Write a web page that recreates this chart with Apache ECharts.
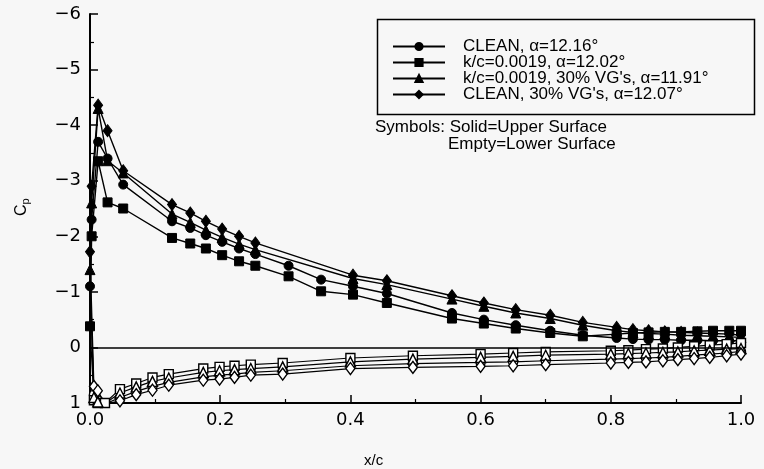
<!DOCTYPE html>
<html>
<head>
<meta charset="utf-8">
<script src="https://cdn.jsdelivr.net/npm/echarts@6/dist/echarts.min.js"></script>
<style>
  html, body { margin: 0; padding: 0; background: #f7f7f7; }
  #chart { width: 764px; height: 469px; }
</style>
</head>
<body>
<div id="chart"></div>
<script>
// Chordwise pressure taps (x/c)
const xUpper   = [0, 0.0025, 0.0125, 0.027, 0.051, 0.126, 0.154, 0.178, 0.203, 0.229, 0.254, 0.305, 0.355, 0.404, 0.456, 0.556, 0.605, 0.654, 0.707, 0.757, 0.809, 0.834, 0.858, 0.883, 0.908, 0.933, 0.957, 0.982, 1.0];
const xUpperVG = [0, 0.0025, 0.0125, 0.027, 0.051, 0.126, 0.154, 0.178, 0.203, 0.229, 0.254, 0.404, 0.456, 0.556, 0.605, 0.654, 0.707, 0.757, 0.809, 0.834, 0.858, 0.883, 0.908, 0.933, 0.957, 0.982, 1.0];
const xLower   = [0.006, 0.012, 0.023, 0.046, 0.071, 0.096, 0.121, 0.174, 0.199, 0.222, 0.247, 0.296, 0.4, 0.496, 0.6, 0.65, 0.7, 0.8, 0.827, 0.854, 0.88, 0.903, 0.928, 0.952, 0.978, 1.0];

// Upper surface Cp
const cleanUpper   = [-1.10, -2.30, -3.70, -3.40, -2.93, -2.27, -2.15, -2.02, -1.90, -1.78, -1.68, -1.47, -1.22, -1.10, -0.97, -0.62, -0.50, -0.40, -0.30, -0.22, -0.17, -0.15, -0.14, -0.14, -0.13, -0.13, -0.12, -0.12, -0.12];
const kcUpper      = [-0.38, -2.00, -3.35, -2.61, -2.50, -1.97, -1.87, -1.78, -1.66, -1.55, -1.47, -1.28, -1.01, -0.95, -0.80, -0.52, -0.43, -0.34, -0.26, -0.20, -0.24, -0.26, -0.27, -0.28, -0.28, -0.29, -0.30, -0.30, -0.30];
const kcVgUpper    = [-1.40, -2.60, -4.30, -3.36, -3.14, -2.40, -2.25, -2.11, -1.98, -1.86, -1.76, -1.24, -1.13, -0.87, -0.74, -0.62, -0.52, -0.40, -0.30, -0.27, -0.25, -0.24, -0.22, -0.21, -0.20, -0.19, -0.18];
const cleanVgUpper = [-1.72, -2.90, -4.36, -3.90, -3.18, -2.57, -2.42, -2.27, -2.13, -2.00, -1.88, -1.30, -1.20, -0.93, -0.80, -0.68, -0.58, -0.45, -0.36, -0.32, -0.30, -0.28, -0.27, -0.26, -0.25, -0.24, -0.22];

// Lower surface Cp
const cleanLower   = [0.85, 0.95, 1.02, 0.90, 0.79, 0.70, 0.63, 0.53, 0.50, 0.48, 0.45, 0.42, 0.33, 0.29, 0.27, 0.26, 0.24, 0.21, 0.20, 0.19, 0.18, 0.16, 0.14, 0.12, 0.10, 0.07];
const kcLower      = [0.95, 1.00, 1.00, 0.75, 0.65, 0.54, 0.48, 0.38, 0.35, 0.33, 0.31, 0.28, 0.19, 0.15, 0.12, 0.10, 0.08, 0.06, 0.05, 0.03, 0.02, 0.00, -0.02, -0.04, -0.06, -0.08];
const kcVgLower    = [0.90, 0.98, 1.01, 0.82, 0.71, 0.61, 0.55, 0.45, 0.42, 0.40, 0.38, 0.35, 0.26, 0.21, 0.18, 0.16, 0.14, 0.12, 0.11, 0.10, 0.09, 0.08, 0.06, 0.05, 0.03, 0.02];
const cleanVgLower = [0.70, 0.78, 1.02, 0.96, 0.85, 0.77, 0.68, 0.59, 0.57, 0.54, 0.50, 0.48, 0.38, 0.36, 0.34, 0.33, 0.31, 0.28, 0.27, 0.26, 0.24, 0.22, 0.20, 0.18, 0.15, 0.12];

// Test configurations
const caseNames = [
  'CLEAN, α=12.16°',
  'k/c=0.0019, α=12.02°',
  'k/c=0.0019, 30% VG\'s, α=11.91°',
  'CLEAN, 30% VG\'s, α=12.07°'
];
const caseSymbols = ['circle', 'rect', 'triangle', 'diamond'];
const caseSizes = [9, 9, 10, [9, 12]];

// Axis ticks
const xTicks = [0, 0.2, 0.4, 0.6, 0.8, 1.0];
const yTicks = [-6, -5, -4, -3, -2, -1, 0, 1];

const upperSets = [[xUpper, cleanUpper], [xUpper, kcUpper], [xUpperVG, kcVgUpper], [xUpperVG, cleanVgUpper]];
const lowerSets = [cleanLower, kcLower, kcVgLower, cleanVgLower];

function pairs(xs, ys) { return xs.map((x, i) => [x, ys[i]]); }

const series = [];
upperSets.forEach(([xs, ys], i) => {
  series.push({
    name: caseNames[i],
    type: 'line',
    data: pairs(xs, ys),
    symbol: caseSymbols[i],
    symbolSize: caseSizes[i],
    showAllSymbol: true,
    lineStyle: { color: '#000', width: 1.4 },
    itemStyle: { color: '#000', borderColor: '#000', borderWidth: 1 },
    z: 3
  });
});
lowerSets.forEach((ys, i) => {
  // lower surface continues from the leading-edge point of the upper surface
  const start = { value: [0, upperSets[i][1][0]], symbol: 'none' };
  series.push({
    name: caseNames[i],
    type: 'line',
    data: [start].concat(pairs(xLower, ys)),
    symbol: caseSymbols[i],
    symbolSize: caseSizes[i],
    showAllSymbol: true,
    lineStyle: { color: '#000', width: 1.2 },
    itemStyle: { color: '#fff', borderColor: '#000', borderWidth: 1.4 },
    z: 4
  });
});

// zero reference line
series[0].markLine = {
  silent: true,
  symbol: ['none', 'none'],
  label: { show: false },
  lineStyle: { color: '#000', width: 1.5, type: 'solid' },
  data: [{ yAxis: 0 }]
};

const tickFont = { fontFamily: 'DejaVu Sans', fontSize: 18, color: '#000' };

const chart = echarts.init(document.getElementById('chart'), null, { renderer: 'canvas' });
chart.setOption({
  backgroundColor: '#f7f7f7',
  animation: false,
  grid: { left: 90, right: 23, top: 14, bottom: 66 },
  xAxis: {
    type: 'value',
    min: xTicks[0], max: xTicks[xTicks.length - 1], interval: 0.2,
    axisLine: { onZero: false, lineStyle: { color: '#000', width: 2 } },
    axisTick: { inside: true, length: 8, lineStyle: { color: '#000', width: 1.5 } },
    minorTick: { show: true, splitNumber: 2, length: 4, lineStyle: { color: '#000', width: 1.2 } },
    splitLine: { show: false },
    axisLabel: { ...tickFont, margin: 8, formatter: v => v.toFixed(1) }
  },
  yAxis: {
    type: 'value',
    inverse: true,
    min: yTicks[0], max: yTicks[yTicks.length - 1], interval: 1,
    axisLine: { lineStyle: { color: '#000', width: 2 } },
    axisTick: { inside: true, length: 8, lineStyle: { color: '#000', width: 1.5 } },
    minorTick: { show: true, splitNumber: 2, length: 4, lineStyle: { color: '#000', width: 1.2 } },
    splitLine: { show: false },
    axisLabel: { ...tickFont, margin: 9, formatter: v => String(v).replace('-', '\u2212') }
  },
  legend: {
    data: caseNames,
    orient: 'vertical',
    left: 392, top: 38,
    padding: 0,
    itemWidth: 52, itemHeight: 9, itemGap: -1,
    textStyle: { fontFamily: 'Liberation Sans', fontSize: 17, color: '#000', lineHeight: 16, padding: [0, 0, 0, 13] }
  },
  graphic: [
    { type: 'rect', left: 375, top: 17, shape: { width: 377, height: 95 },
      style: { fill: 'none', stroke: '#000', lineWidth: 1.5 }, silent: true },
    { type: 'text', left: 375, top: 119,
      style: { text: 'Symbols: Solid=Upper Surface', fontFamily: 'Liberation Sans', fontSize: 17, fill: '#000' } },
    { type: 'text', left: 448, top: 136,
      style: { text: 'Empty=Lower Surface', fontFamily: 'Liberation Sans', fontSize: 17, fill: '#000' } },
    { type: 'text', left: 364, top: 453,
      style: { text: 'x/c', fontFamily: 'Liberation Sans', fontSize: 15, fill: '#000' } },
    { type: 'text', x: 12, y: 216, rotation: Math.PI / 2,
      style: { text: '{c|C}{p|p}', fill: '#000',
        rich: { c: { fontFamily: 'Liberation Sans', fontSize: 16 },
                p: { fontFamily: 'Liberation Sans', fontSize: 11, padding: [8, 0, 0, 0] } } } }
  ],
  series: series
});
</script>
</body>
</html>
